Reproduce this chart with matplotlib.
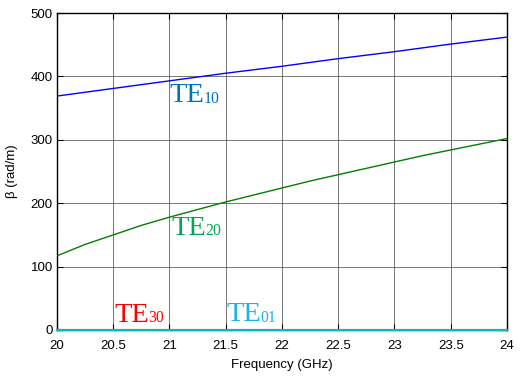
import matplotlib
matplotlib.use("Agg")
import matplotlib.pyplot as plt

freq = [20.0, 20.25, 20.5, 20.75, 21.0, 21.25, 21.5, 21.75, 22.0,
        22.25, 22.5, 22.75, 23.0, 23.25, 23.5, 23.75, 24.0]
beta_te10 = [369, 375, 381, 387, 393, 399, 405, 410.5, 416,
             422, 428, 433.5, 439, 445, 451, 456.5, 462]
beta_te20 = [117, 135, 150, 165, 178, 190, 202, 213, 224,
             235, 245, 255, 265, 275, 284, 293, 302]
beta_te30 = [0] * 17
beta_te01 = [0] * 17

x_ticks = [20, 20.5, 21, 21.5, 22, 22.5, 23, 23.5, 24]
x_tick_labels = ["20", "20.5", "21", "21.5", "22", "22.5", "23", "23.5", "24"]
y_ticks = [0, 100, 200, 300, 400, 500]

mode_labels = [("TE", "10"), ("TE", "20"), ("TE", "30"), ("TE", "01")]
mode_label_pos = [(21.0, 359), (21.02, 150), (20.515, 13), (21.51, 14)]
mode_label_colors = ['#0072BD', '#00A651', '#FF0000', '#1CB4E8']

plt.rcParams['font.family'] = ['Liberation Sans', 'DejaVu Sans']

fig = plt.figure(figsize=(5.2, 3.78), dpi=100)
ax = fig.add_axes([0.1096, 0.127, 0.8654, 0.8386])

ax.plot(freq, beta_te10, color='#0000FF', lw=1.0, zorder=3)
ax.plot(freq, beta_te20, color='#007F00', lw=1.0, zorder=3)
ax.plot(freq, beta_te30, color='#FF0000', lw=1.5, zorder=3)
ax.plot(freq, beta_te01, color='#00BFBF', lw=1.5, zorder=4, clip_on=False)

ax.set_xlim(20, 24)
ax.set_ylim(0, 500)
ax.set_xticks(x_ticks)
ax.set_xticklabels(x_tick_labels)
ax.set_yticks(y_ticks)
ax.grid(True, color='#555555', lw=0.7, alpha=0.8)
ax.tick_params(direction='in', top=True, right=True, labelsize=9.5, length=4, width=0.8)
ax.tick_params(axis='x', pad=7)
ax.tick_params(axis='y', pad=3)
for s in ax.spines.values():
    s.set_linewidth(1.0)
    s.set_color('black')

ax.set_xlabel('Frequency (GHz)', fontsize=9.5, labelpad=5)
ax.set_ylabel('β (rad/m)', fontsize=9.5, labelpad=9)

main_texts = []
for (main, sub), (lx, ly), c in zip(mode_labels, mode_label_pos, mode_label_colors):
    t = ax.text(lx, ly, main, color=c, fontsize=20.5, family='Liberation Serif',
                va='baseline', ha='left', zorder=5)
    main_texts.append(t)

fig.canvas.draw()
renderer = fig.canvas.get_renderer()
for t, (main, sub), (lx, ly), c in zip(main_texts, mode_labels, mode_label_pos, mode_label_colors):
    bb = t.get_window_extent(renderer)
    base_y = ax.transData.transform((lx, ly))[1]
    ax.annotate(sub, xy=(bb.x1 - 1.0, base_y - 0.5), xycoords='figure pixels',
                color=c, fontsize=11.3, family='Liberation Serif',
                va='baseline', ha='left', zorder=5)

fig.savefig('out.png', dpi=100)
